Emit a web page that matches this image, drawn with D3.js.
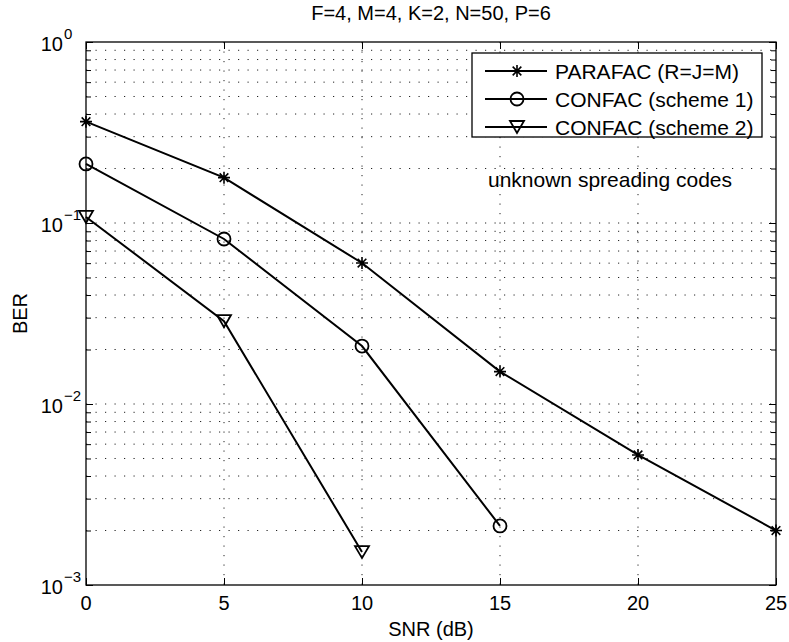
<!DOCTYPE html>
<html>
<head>
<meta charset="utf-8">
<script src="https://cdn.jsdelivr.net/npm/d3@7"></script>
<style>
  html, body { margin: 0; padding: 0; background: #fff; }
  text { font-family: "Liberation Sans", Arial, Helvetica, sans-serif; fill: #000; }
</style>
</head>
<body>
<svg id="chart" width="789" height="642"></svg>
<script>
// ---- data ----
const title = "F=4, M=4, K=2, N=50, P=6";
const xLabel = "SNR (dB)";
const yLabel = "BER";
const xTicks = [0, 5, 10, 15, 20, 25];
const yExponents = [0, -1, -2, -3];
const seriesNames = ["PARAFAC (R=J=M)", "CONFAC (scheme 1)", "CONFAC (scheme 2)"];
const parafacX = [0, 5, 10, 15, 20, 25];
const parafacY = [0.363, 0.178, 0.0601, 0.0151, 0.00523, 0.00200];
const confac1X = [0, 5, 10, 15];
const confac1Y = [0.212, 0.0816, 0.0209, 0.00212];
const confac2X = [0, 5, 10];
const confac2Y = [0.108, 0.0287, 0.00152];
const annotation = "unknown spreading codes";

// ---- layout ----
const svg = d3.select("#chart");
const L = 86, R = 776, T = 42, B = 585;
const x = d3.scaleLinear().domain([0, 25]).range([L, R]);
const y = d3.scaleLog().domain([1e-3, 1]).range([B, T]);

// grid
const minorVals = [];
for (let e = -3; e < 0; e++) for (let m = 1; m < 10; m++) minorVals.push(m * Math.pow(10, e));
minorVals.push(1);
const grid = svg.append("g").attr("stroke", "#222").attr("stroke-width", 1)
  .attr("stroke-dasharray", "1.2,8.3").attr("fill", "none");
minorVals.forEach(v => {
  if (v <= 1e-3 || v >= 1) return;
  grid.append("line").attr("x1", L).attr("x2", R).attr("y1", y(v)).attr("y2", y(v));
});
xTicks.forEach(v => {
  if (v === 0 || v === 25) return;
  grid.append("line").attr("x1", x(v)).attr("x2", x(v)).attr("y1", T).attr("y2", B);
});

// axes with inward ticks
const gx = svg.append("g").attr("transform", `translate(0,${B})`)
  .call(d3.axisBottom(x).tickValues(xTicks).tickSizeInner(-7).tickSizeOuter(0).tickFormat(""));
const gxt = svg.append("g").attr("transform", `translate(0,${T})`)
  .call(d3.axisTop(x).tickValues(xTicks).tickSizeInner(-7).tickSizeOuter(0).tickFormat(""));
const gy = svg.append("g").attr("transform", `translate(${L},0)`)
  .call(d3.axisLeft(y).tickValues(minorVals).tickSizeInner(-5).tickSizeOuter(0).tickFormat(""));
const gyr = svg.append("g").attr("transform", `translate(${R},0)`)
  .call(d3.axisRight(y).tickValues(minorVals).tickSizeInner(-5).tickSizeOuter(0).tickFormat(""));
function isMajor(d) { return Math.abs(Math.log10(d) - Math.round(Math.log10(d))) < 1e-9; }
gy.selectAll(".tick line").attr("x2", d => isMajor(d) ? 7 : 5);
gyr.selectAll(".tick line").attr("x2", d => isMajor(d) ? -7 : -5);
[gx, gxt, gy, gyr].forEach(g => {
  g.select(".domain").remove();
  g.selectAll(".tick line").attr("stroke", "#000").attr("stroke-width", 1);
});
svg.append("rect").attr("x", L).attr("y", T).attr("width", R - L).attr("height", B - T)
  .attr("fill", "none").attr("stroke", "#000").attr("stroke-width", 1.3);

// tick labels
const fs = 20;
xTicks.forEach(v => {
  svg.append("text").attr("x", x(v)).attr("y", 610).attr("text-anchor", "middle")
    .attr("font-size", fs).text(v);
});
yExponents.forEach(e => {
  const yy = y(Math.pow(10, e));
  svg.append("text").attr("x", 63).attr("y", yy + 8.5).attr("text-anchor", "end")
    .attr("font-size", fs).text("10");
  svg.append("text").attr("x", 64).attr("y", yy - 3).attr("text-anchor", "start")
    .attr("font-size", 15).text(e === 0 ? "0" : "\u2212" + Math.abs(e));
});

// labels
svg.append("text").attr("x", (L + R) / 2).attr("y", 636).attr("text-anchor", "middle")
  .attr("font-size", fs).text(xLabel);
svg.append("text").attr("transform", `translate(27,${(T + B) / 2}) rotate(-90)`)
  .attr("text-anchor", "middle").attr("font-size", fs).text(yLabel);
svg.append("text").attr("x", (L + R) / 2).attr("y", 20).attr("text-anchor", "middle")
  .attr("font-size", 20).text(title);

// markers
function drawMarker(g, type, cx, cy) {
  if (type === "star") {
    const r = 6;
    const d = r * 0.72;
    g.append("path").attr("d",
      `M${cx - r},${cy}L${cx + r},${cy}M${cx},${cy - r}L${cx},${cy + r}` +
      `M${cx - d},${cy - d}L${cx + d},${cy + d}M${cx - d},${cy + d}L${cx + d},${cy - d}`)
      .attr("stroke", "#000").attr("stroke-width", 1.6).attr("fill", "none");
  } else if (type === "circle") {
    g.append("circle").attr("cx", cx).attr("cy", cy).attr("r", 6.5)
      .attr("stroke", "#000").attr("stroke-width", 1.8).attr("fill", "none");
  } else {
    const w = 7, h = 6;
    g.append("path").attr("d", `M${cx - w},${cy - h}L${cx + w},${cy - h}L${cx},${cy + h}Z`)
      .attr("stroke", "#000").attr("stroke-width", 1.8).attr("fill", "none")
      .attr("stroke-linejoin", "miter");
  }
}

const series = [
  { xs: parafacX, ys: parafacY, m: "star" },
  { xs: confac1X, ys: confac1Y, m: "circle" },
  { xs: confac2X, ys: confac2Y, m: "tri" }
];
const line = d3.line().x(d => x(d[0])).y(d => y(d[1]));
const plotG = svg.append("g");
series.forEach(s => {
  const pts = s.xs.map((v, i) => [v, s.ys[i]]);
  plotG.append("path").attr("d", line(pts)).attr("fill", "none")
    .attr("stroke", "#000").attr("stroke-width", 2);
  pts.forEach(p => drawMarker(plotG, s.m, x(p[0]), y(p[1])));
});

// annotation
svg.append("text").attr("x", 732).attr("y", 187).attr("text-anchor", "end")
  .attr("font-size", 21).text(annotation);

// legend
const lg = svg.append("g");
lg.append("rect").attr("x", 472).attr("y", 53).attr("width", 290).attr("height", 84)
  .attr("fill", "#fff").attr("stroke", "#000").attr("stroke-width", 1.3);
const rowsY = [71, 99, 127];
series.forEach((s, i) => {
  const yy = rowsY[i];
  lg.append("line").attr("x1", 485).attr("x2", 547).attr("y1", yy).attr("y2", yy)
    .attr("stroke", "#000").attr("stroke-width", 2);
  drawMarker(lg, s.m, 517, yy);
  lg.append("text").attr("x", 555).attr("y", yy + 7.5).attr("font-size", 21).text(seriesNames[i]);
});
</script>
</body>
</html>
